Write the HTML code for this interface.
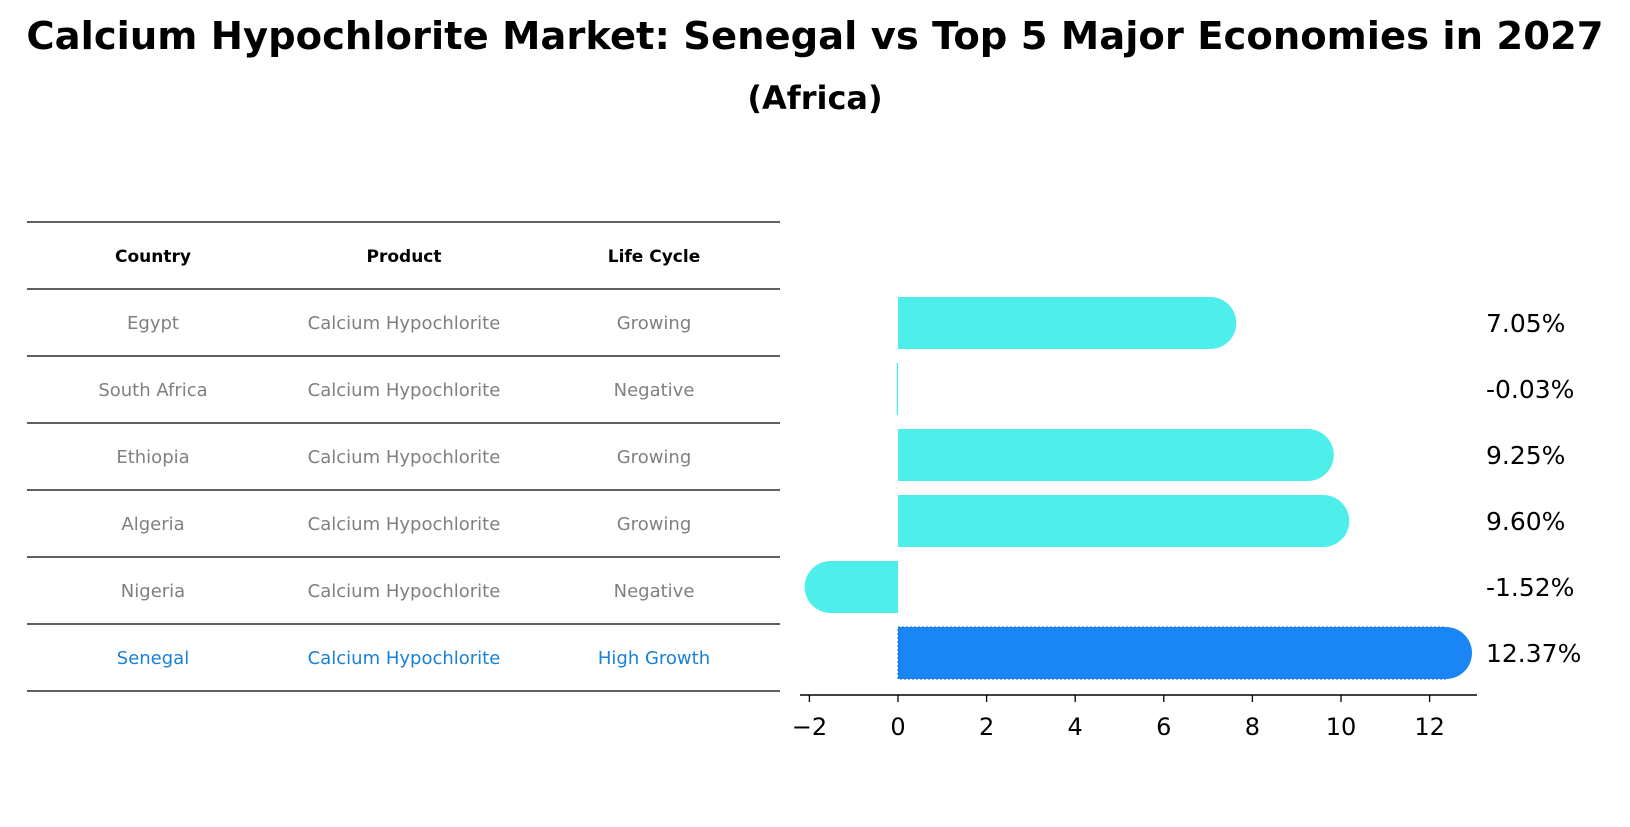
<!DOCTYPE html>
<html><head><meta charset="utf-8"><style>
body{margin:0;background:#fff;font-family:"DejaVu Sans","Liberation Sans",sans-serif}
svg text{font-family:"DejaVu Sans","Liberation Sans",sans-serif}
</style></head><body>
<svg width="1630" height="823" xmlns="http://www.w3.org/2000/svg">
<text x="815" y="49" text-anchor="middle" font-size="38.5" font-weight="bold">Calcium Hypochlorite Market: Senegal vs Top 5 Major Economies in 2027</text>
<text x="815" y="109" text-anchor="middle" font-size="32" font-weight="bold">(Africa)</text>
<g id="table"></g>
<g id="bars"></g>
</svg>
<script>
const countries=["Egypt","South Africa","Ethiopia","Algeria","Nigeria","Senegal"];
const lifecycle=["Growing","Negative","Growing","Growing","Negative","High Growth"];
const growth=[7.05,-0.03,9.25,9.60,-1.52,12.37];
const ticks=[-2,0,2,4,6,8,10,12];
const NS="http://www.w3.org/2000/svg";
function mk(t,a,p,txt){const e=document.createElementNS(NS,t);for(const k in a)e.setAttribute(k,a[k]);if(txt!==undefined)e.textContent=txt;p.appendChild(e);return e;}
const tb=document.getElementById('table');
const lines=[222,289,356,423,490,557,624,691];
lines.forEach(y=>{const l=mk('line',{x1:27,x2:780,y1:y,y2:y,stroke:'#000','stroke-width':1.2},tb);

});
const cx=[153,404,654];
["Country","Product","Life Cycle"].forEach((h,i)=>{const t=mk('text',{x:cx[i],y:262,'text-anchor':'middle','font-size':17,'font-weight':'bold'},tb,h);

});
countries.forEach((c,r)=>{const y=329+r*67;const col=r===5?'#1a80d8':'#808080';
[c,"Calcium Hypochlorite",lifecycle[r]].forEach((v,i)=>{const t=mk('text',{x:cx[i],y:y,'text-anchor':'middle','font-size':18,fill:col},tb,v);

});});
const g=document.getElementById('bars');
const x0=898,ppu=44.3;const X=v=>x0+v*ppu;
const rowY=r=>323+r*66;const bh=52;
mk('line',{x1:800,x2:1477,y1:695,y2:695,stroke:'#000','stroke-width':1.5},g);
ticks.forEach(t=>{mk('line',{x1:X(t),x2:X(t),y1:695,y2:702,stroke:'#000','stroke-width':1.3},g);
const tx=mk('text',{x:X(t),y:735,'text-anchor':'middle','font-size':24},g,t<0?'\u2212'+(-t):String(t));

});
growth.forEach((v,r)=>{const y=rowY(r);const col=r===5?'#1a86f5':'#4eeeea';
const x1=Math.min(X(0),X(v)),w=Math.abs(X(v)-X(0));
const rect=mk('rect',{x:x1,y:y-bh/2,width:Math.max(w,1),height:bh,fill:col},g);
if(r===5){rect.setAttribute('stroke','#1a6fd0');rect.setAttribute('stroke-dasharray','2,2');}


if(Math.abs(v)>0.1){const cxp=X(v);const c=mk('circle',{cx:cxp,cy:y,r:bh/2,fill:col},g);

}
const lb=mk('text',{x:1486,y:y+9,'font-size':25},g,v.toFixed(2)+'%');

});
</script>
</body></html>
